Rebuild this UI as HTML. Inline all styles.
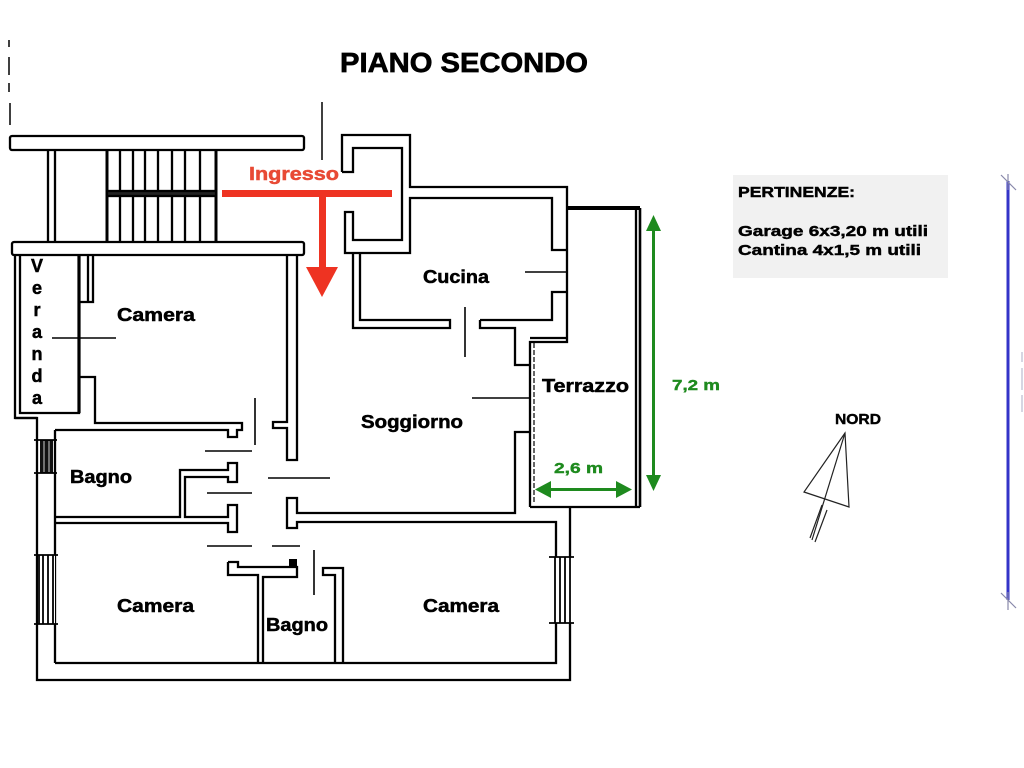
<!DOCTYPE html>
<html><head><meta charset="utf-8">
<style>
html,body{margin:0;padding:0;background:#fff;}
svg{display:block;}
text{font-family:"Liberation Sans",Arial,sans-serif;font-weight:bold;}
</style></head><body>
<svg width="1024" height="768" viewBox="0 0 1024 768" xmlns="http://www.w3.org/2000/svg">
<rect width="1024" height="768" fill="#fff"/>

<!-- title -->
<text x="340" y="72" font-size="28" textLength="248" lengthAdjust="spacingAndGlyphs" fill="#000" stroke="#000" stroke-width="0.7">PIANO SECONDO</text>

<!-- top-left dashed marks -->
<g stroke="#000" stroke-width="1.5">
<line x1="9" y1="40" x2="9" y2="47"/>
<line x1="9" y1="57" x2="9" y2="75"/>
<line x1="9" y1="83" x2="9" y2="92"/>
<line x1="10" y1="103" x2="10" y2="125"/>
<line x1="322" y1="102" x2="322" y2="160"/>
</g>

<!-- walls -->
<g stroke="#000" stroke-width="2.3" fill="none" stroke-linejoin="miter">
<rect x="10" y="136" width="294" height="14" rx="2"/>
<rect x="12" y="242" width="292" height="13" rx="2"/>
<line x1="48" y1="150" x2="48" y2="242"/>
<line x1="55" y1="150" x2="55" y2="242"/>
<line x1="107" y1="150" x2="107" y2="242" stroke-width="3"/>
<line x1="120" y1="150" x2="120" y2="242"/>
<line x1="133" y1="150" x2="133" y2="242"/>
<line x1="145" y1="150" x2="145" y2="242"/>
<line x1="158" y1="150" x2="158" y2="242"/>
<line x1="172" y1="150" x2="172" y2="242"/>
<line x1="185" y1="150" x2="185" y2="242"/>
<line x1="200" y1="150" x2="200" y2="242"/>
<line x1="216" y1="150" x2="216" y2="242" stroke-width="3"/>
<rect x="107" y="191" width="109" height="5" fill="#222"/>

<path d="M15 255 V418 H37"/>
<path d="M20 255 V413 H79 V255"/>
<line x1="79" y1="255" x2="79" y2="413" stroke-width="3.2"/>
<path d="M80 302 H93 V255"/>
<line x1="88" y1="255" x2="88" y2="302"/>
<path d="M80 377 H95 V423 H242 V430 H237 V437 H228 V430 H55"/>
<path d="M287 255 V422 H273 V428 H287 V460 H297 V255"/>

<path d="M55 430 V663"/>
<path d="M55 517 H180 V470 H228 V463 H237 V482 H228 V477 H185 V517 H228 V505 H237 V532 H228 V523 H55"/>

<path d="M15 418 H37 V680 H570 V507"/>

<path d="M530 432 H515 V513 H297 V498 H287 V528 H297 V522 H556 V663 H55"/>
<path d="M343 663 V568 H323 V575 H335 V663"/>
<path d="M228 562 H238 V567 H297 V577 H263 V663"/>
<path d="M228 562 V575 H258 V663"/>

<path d="M342 172 V135 H410 V187 H567 V342 H530 V507"/>
<path d="M342 172 H353 V148 H402 V240 H353 V212 H345 V253 H410 V198 H552 V250 H567"/>
<path d="M353 253 V328 H450 V320 H360 V253"/>
<path d="M480 320 V328 H515 V365 H530"/>
<path d="M480 320 H552 V292 H567"/>
<line x1="530" y1="338" x2="567" y2="338"/>
<line x1="568" y1="208" x2="640" y2="208" stroke-width="4"/>
<line x1="636" y1="208" x2="636" y2="507"/>
<line x1="640" y1="208" x2="640" y2="507" stroke-width="2.6"/>
<line x1="530" y1="507" x2="640" y2="507"/>
</g>
<line x1="534" y1="343" x2="534" y2="503" stroke="#000" stroke-width="1.2" stroke-dasharray="5 2"/>

<!-- windows -->
<rect x="40" y="440" width="13" height="33" fill="#111"/>
<g stroke="#fff" stroke-width="0.8">
<line x1="44" y1="441" x2="44" y2="472"/>
<line x1="49" y1="441" x2="49" y2="472"/>
</g>
<rect x="38" y="555" width="17" height="69" fill="#fff"/>
<rect x="552" y="557" width="20" height="66" fill="#fff"/>
<g stroke="#000" stroke-width="1.8">
<line x1="34" y1="440" x2="57" y2="440"/>
<line x1="34" y1="473" x2="57" y2="473"/>
<line x1="34" y1="555" x2="58" y2="555"/>
<line x1="34" y1="624" x2="58" y2="624"/>
<line x1="39" y1="555" x2="39" y2="624"/>
<line x1="43" y1="555" x2="43" y2="624"/>
<line x1="48" y1="555" x2="48" y2="624"/>
<line x1="53" y1="555" x2="53" y2="624"/>
<line x1="549" y1="557" x2="574" y2="557"/>
<line x1="549" y1="623" x2="574" y2="623"/>
<line x1="555" y1="557" x2="555" y2="623"/>
<line x1="560" y1="557" x2="560" y2="623"/>
<line x1="565" y1="557" x2="565" y2="623"/>
<line x1="570" y1="557" x2="570" y2="623"/>
</g>
<rect x="289" y="559" width="8" height="8" fill="#000"/>

<!-- door lines -->
<g stroke="#000" stroke-width="1.6">
<line x1="52" y1="338" x2="116" y2="338"/>
<line x1="205" y1="451" x2="252" y2="451"/>
<line x1="255" y1="398" x2="255" y2="445"/>
<line x1="207" y1="493" x2="252" y2="493"/>
<line x1="268" y1="478" x2="330" y2="478"/>
<line x1="207" y1="546" x2="252" y2="546"/>
<line x1="272" y1="546" x2="300" y2="546"/>
<line x1="314" y1="550" x2="314" y2="595"/>
<line x1="465" y1="307" x2="465" y2="357"/>
<line x1="472" y1="398" x2="530" y2="398"/>
<line x1="525" y1="272" x2="567" y2="272"/>
</g>

<!-- red entrance arrow -->
<rect x="222" y="190" width="170" height="7" fill="#ee3322"/>
<rect x="319" y="193" width="7" height="75" fill="#ee3322"/>
<polygon points="306,267 338,267 322,297" fill="#ee3322"/>
<text x="249" y="180" font-size="18" textLength="90" lengthAdjust="spacingAndGlyphs" fill="#e84a35" stroke="#e84a35" stroke-width="0.5">Ingresso</text>

<!-- green dimensions -->
<g fill="#1e8a1e">
<rect x="652" y="228" width="3" height="250"/>
<polygon points="653.5,215 646,231 661,231"/>
<polygon points="653.5,491 646,475 661,475"/>
<rect x="548" y="488" width="72" height="3"/>
<polygon points="535,489.5 551,481 551,498"/>
<polygon points="632,489.5 616,481 616,498"/>
<text x="554" y="473" font-size="15" textLength="49" lengthAdjust="spacingAndGlyphs" stroke="#1e8a1e" stroke-width="0.4">2,6 m</text>
<text x="672" y="390" font-size="15" textLength="48" lengthAdjust="spacingAndGlyphs" stroke="#1e8a1e" stroke-width="0.4">7,2 m</text>
</g>

<!-- room labels -->
<g fill="#000" font-size="18" stroke="#000" stroke-width="0.5">
<text x="117" y="321" textLength="78" lengthAdjust="spacingAndGlyphs">Camera</text>
<text x="70" y="483" textLength="62" lengthAdjust="spacingAndGlyphs">Bagno</text>
<text x="117" y="612" textLength="77" lengthAdjust="spacingAndGlyphs">Camera</text>
<text x="266" y="631" textLength="62" lengthAdjust="spacingAndGlyphs">Bagno</text>
<text x="423" y="612" textLength="76" lengthAdjust="spacingAndGlyphs">Camera</text>
<text x="361" y="428" textLength="102" lengthAdjust="spacingAndGlyphs">Soggiorno</text>
<text x="423" y="283" textLength="66" lengthAdjust="spacingAndGlyphs">Cucina</text>
<text x="542" y="392" textLength="87" lengthAdjust="spacingAndGlyphs">Terrazzo</text>
</g>
<g fill="#000" font-size="18" text-anchor="middle" stroke="#000" stroke-width="0.5">
<text x="37" y="272">V</text>
<text x="37" y="294">e</text>
<text x="37" y="316">r</text>
<text x="37" y="338">a</text>
<text x="37" y="360">n</text>
<text x="37" y="382">d</text>
<text x="37" y="404">a</text>
</g>

<!-- pertinenze box -->
<rect x="733" y="175" width="215" height="103" fill="#f1f1f1"/>
<g fill="#000" font-size="15" stroke="#000" stroke-width="0.45">
<text x="738" y="197" textLength="117" lengthAdjust="spacingAndGlyphs">PERTINENZE:</text>
<text x="738" y="236" textLength="190" lengthAdjust="spacingAndGlyphs">Garage 6x3,20 m utili</text>
<text x="738" y="255" textLength="183" lengthAdjust="spacingAndGlyphs">Cantina 4x1,5 m utili</text>
</g>

<!-- north -->
<text x="835" y="424" font-size="15" textLength="46" lengthAdjust="spacingAndGlyphs" fill="#000" stroke="#000" stroke-width="0.4">NORD</text>
<g stroke="#222" stroke-width="1.2" fill="none">
<polygon points="845,433 804,492 849,507"/>
<line x1="845" y1="433" x2="812" y2="540"/>
<line x1="822" y1="505" x2="810" y2="538"/>
<line x1="827" y1="510" x2="815" y2="542"/>
</g>

<!-- blue line -->
<line x1="1008" y1="181" x2="1008" y2="600" stroke="#3434c8" stroke-width="3"/>
<g stroke="#8888aa" stroke-width="1.2">
<line x1="1001" y1="175" x2="1016" y2="190"/>
<line x1="1008" y1="174" x2="1008" y2="190"/>
<line x1="1001" y1="593" x2="1016" y2="608"/>
<line x1="1008" y1="592" x2="1008" y2="610"/>
</g>
<g stroke="#c8c8d8" stroke-width="1.5">
<line x1="1022" y1="352" x2="1022" y2="362"/>
<line x1="1022" y1="368" x2="1022" y2="390"/>
<line x1="1022" y1="395" x2="1022" y2="412"/>
</g>
</svg>
</body></html>
